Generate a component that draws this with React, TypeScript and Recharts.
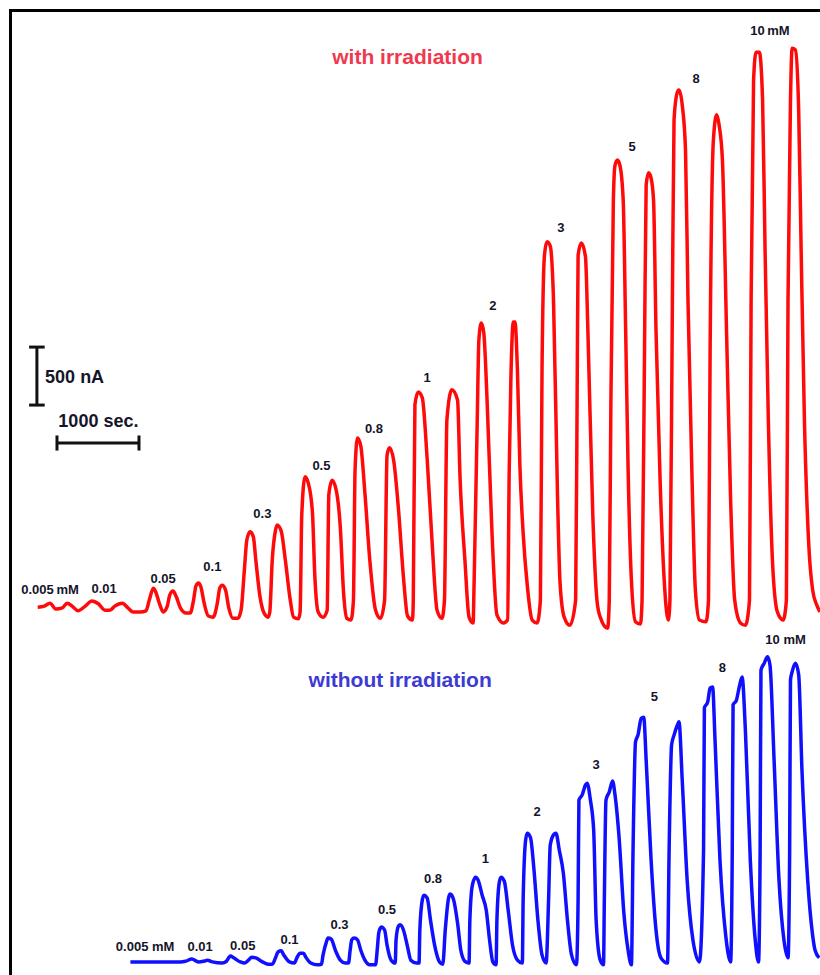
import React from 'react';
import { ComposedChart, Line, Scatter, XAxis, YAxis, ReferenceLine } from 'recharts';

// Time in seconds, current in nA (relative to each trace's baseline)
const redTime = [
  460, 540, 610, 680, 760, 820, 880, 950, 1040, 1120, 1200, 1280, 1340, 1400, 1490, 1560, 1620, 1710, 1780,
  1820, 1870, 1900, 1950, 1990,
  2040, 2070, 2110, 2150, 2200, 2270, 2320,
  2360, 2390, 2420, 2450, 2490, 2540, 2600,
  2650, 2680, 2710, 2750, 2790, 2840, 2900,
  2940, 2980, 3010, 3050, 3090, 3120, 3170, 3220, 3270,
  3290, 3320, 3360, 3380, 3430, 3480, 3540, 3580, 3640,
  3660, 3680, 3720, 3760, 3810, 3840, 3880, 3940,
  3990, 4010, 4050, 4100, 4150, 4190, 4230, 4280,
  4310, 4330, 4360, 4400, 4450, 4510, 4580, 4640,
  4690, 4720, 4750, 4800, 4860, 4920, 4970, 5030,
  5040, 5060, 5100, 5150, 5210, 5270, 5330, 5390,
  5420, 5450, 5510, 5580, 5610, 5670, 5720, 5770,
  5780, 5820, 5840, 5870, 5900, 5940, 6000, 6060, 6140,
  6190, 6210, 6230, 6260, 6280, 6310, 6340, 6380, 6430, 6490, 6550,
  6590, 6610, 6640, 6670, 6710, 6750, 6800, 6830, 6880, 6950,
  7020, 7040, 7050, 7090, 7140, 7170, 7230, 7280, 7320, 7410,
  7430, 7450, 7480, 7500, 7530, 7560, 7600, 7630, 7660, 7700, 7750, 7810,
  7830, 7860, 7880, 7910, 7940, 7970, 8000, 8050, 8100, 8150,
  8170, 8200, 8220, 8260, 8280, 8320, 8360, 8390, 8440, 8480, 8530, 8610,
  8640, 8660, 8700, 8740, 8770, 8810, 8860, 8910, 8960, 9030, 9090,
  9140, 9160, 9190, 9220, 9260, 9300, 9330, 9370, 9420, 9480, 9550,
  9590, 9610, 9640, 9660, 9700, 9740, 9770, 9810, 9860, 9910, 9960, 10000,
];
const redCurrent = [
  110, 120, 145, 95, 105, 145, 120, 80, 120, 165, 140, 85, 85, 120, 145, 105, 70, 70, 80,
  170, 275, 240, 130, 70,
  120, 215, 250, 200, 105, 60, 60,
  170, 295, 320, 285, 145, 35, 25,
  145, 275, 300, 260, 105, 15, 15,
  85, 430, 690, 760, 715, 515, 205, 60, 25,
  70, 515, 775, 820, 765, 515, 170, 25, 10,
  70, 905, 1235, 1180, 930, 370, 70, 25,
  85, 1080, 1205, 1120, 800, 235, 15, 0,
  170, 1295, 1570, 1500, 1095, 515, 85, 15,
  170, 1420, 1485, 1380, 950, 370, 35, 0,
  170, 1855, 1965, 1915, 1380, 665, 85, 15,
  170, 1725, 1985, 1895, 1235, 515, 25, -25,
  260, 1725, 2415, 2560, 2475, 1895, 750, 45, -25,
  0, 1295, 2070, 2570, 2570, 2155, 1335, 750, 300, 0, -25,
  170, 2155, 3145, 3260, 3225, 2760, 1035, 320, 25, -45,
  170, 2155, 3145, 3250, 3130, 2475, 890, 170, 25, -70,
  170, 1895, 3620, 3920, 3965, 3920, 3620, 2500, 1295, 345, -15, -35,
  170, 2325, 3750, 3855, 3810, 3620, 2500, 1205, 345, 0,
  170, 2760, 4310, 4550, 4570, 4440, 4050, 2760, 1205, 260, 0, -15,
  170, 2325, 4140, 4355, 4265, 3965, 2500, 1035, 170, -25, -45,
  170, 2760, 4655, 4895, 4895, 4480, 3190, 1725, 515, 70, 0,
  170, 2760, 4480, 4930, 4915, 4395, 3190, 1725, 690, 260, 130, 70,
];

const blueTime = [
  1590, 2200, 2260, 2340, 2420, 2480, 2530, 2590, 2710,
  2760, 2810, 2850, 2930, 2980,
  3030, 3070, 3120, 3200, 3270, 3320,
  3360, 3390, 3430, 3460, 3530, 3590,
  3620, 3660, 3700, 3730, 3790, 3870, 3920,
  3940, 3980, 4000, 4040, 4090, 4150, 4210, 4250,
  4270, 4290, 4320, 4360, 4400, 4450, 4510, 4580,
  4600, 4620, 4650, 4690, 4720, 4770, 4820,
  4830, 4860, 4880, 4920, 4970, 5010, 5080, 5110,
  5120, 5150, 5170, 5210, 5250, 5300, 5360, 5400,
  5430, 5470, 5490, 5530, 5580, 5620, 5670, 5720,
  5730, 5760, 5800, 5830, 5880, 5930, 5970, 6010, 6050,
  6060, 6090, 6110, 6150, 6200, 6250, 6310, 6370,
  6380, 6410, 6430, 6470, 6510, 6560, 6610, 6660,
  6690, 6710, 6750, 6780, 6820, 6870, 6920, 6970, 7030,
  7050, 7060, 7100, 7140, 7160, 7200, 7240, 7270, 7320, 7360,
  7370, 7390, 7430, 7470, 7500, 7550, 7610, 7660, 7700,
  7720, 7750, 7780, 7820, 7850, 7880, 7940, 8000, 8060, 8140,
  8160, 8190, 8220, 8260, 8280, 8320, 8380, 8450, 8530,
  8580, 8590, 8630, 8660, 8690, 8720, 8780, 8850, 8910,
  8930, 8940, 8980, 9020, 9050, 9090, 9150, 9210, 9250,
  9270, 9280, 9320, 9360, 9390, 9440, 9500, 9560, 9610,
  9630, 9640, 9660, 9700, 9740, 9780, 9850, 9910, 9940, 9990,
];
const blueCurrent = [
  10, 10, 15, 35, 10, 15, 25, 10, 0,
  15, 60, 45, 10, 0,
  25, 50, 45, 10, -10, -10,
  45, 95, 105, 70, 10, 0,
  45, 85, 85, 50, 0, -15, -10,
  70, 180, 215, 205, 110, 25, 0, 0,
  110, 200, 215, 200, 110, 25, -15, -15,
  110, 265, 310, 285, 155, 25, 0,
  200, 320, 330, 285, 140, 25, 0, 0,
  285, 545, 585, 560, 370, 155, 10, -10,
  285, 560, 595, 550, 345, 110, 15, 0,
  370, 670, 740, 715, 585, 455, 200, 10, -15,
  370, 700, 740, 705, 440, 155, 25, 0,
  545, 1060, 1120, 1080, 820, 370, 70, 0,
  545, 1015, 1105, 1120, 975, 775, 370, 70, -15,
  545, 1405, 1450, 1535, 1550, 1405, 1145, 370, 25, -15,
  545, 1405, 1475, 1570, 1450, 1080, 415, 110, -15,
  975, 1905, 1965, 2110, 2120, 1750, 890, 285, 45, 0,
  975, 1880, 1965, 2050, 2080, 1575, 715, 200, 10,
  975, 2200, 2250, 2370, 2380, 1920, 890, 240, 10,
  975, 2225, 2265, 2395, 2465, 2010, 890, 200, 10,
  975, 2525, 2585, 2640, 2570, 1750, 715, 200, 45,
  975, 2440, 2510, 2585, 2485, 1665, 715, 240, 110, 45,
];

const redConcLabels = ['0.005\u2009mM', '0.01', '0.05', '0.1', '0.3', '0.5', '0.8', '1', '2', '3', '5', '8', '10\u2009mM'];
const blueConcLabels = ['0.005 mM', '0.01', '0.05', '0.1', '0.3', '0.5', '0.8', '1', '2', '3', '5', '8', '10 mM'];
const redLabelTime = [610, 1270, 1990, 2590, 3200, 3920, 4560, 5210, 6010, 6840, 7710, 8490, 9390];
const redLabelCurrent = [260, 275, 360, 465, 915, 1335, 1655, 2095, 2715, 3380, 4085, 4670, 5085];
const blueLabelTime = [1770, 2440, 2960, 3530, 4140, 4720, 5280, 5920, 6550, 7270, 7980, 8810, 9580];
const blueLabelCurrent = [145, 145, 155, 200, 330, 465, 725, 905, 1310, 1715, 2295, 2550, 2785];

const titleTexts = ['with irradiation', 'without irradiation'];
const titleTime = [4970, 4880];
const titleLevel = [7920, 2550];

// offsets of each trace's baseline on the common current axis (nA)
const RED_OFFSET = 3060;
const BLUE_OFFSET = 103;
const TIME_DOMAIN: [number, number] = [0, 10000];
const CURRENT_DOMAIN: [number, number] = [0, 8405];

// scale bars: 500 nA and 1000 s
const BAR_I_T = 450;
const BAR_I_FROM = 4913;
const BAR_I_SIZE = 500;
const BAR_T_FROM = 695;
const BAR_T_SIZE = 1000;
const BAR_T_LEVEL = 4586;
const scaleTexts = ['500 nA', '1000 sec.'];
const scaleTextTime = [550, 1200];
const scaleTextLevel = [5155, 4775];

const RED = '#ff0a0a';
const BLUE = '#1010ff';
const TEXT = '#15152a';
const FONT = '"Liberation Sans", Arial, Helvetica, sans-serif';

const redData = redTime.map((t, k) => ({ t, v: RED_OFFSET + redCurrent[k] }));
const blueData = blueTime.map((t, k) => ({ t, v: BLUE_OFFSET + blueCurrent[k] }));
const redLabels = redLabelTime.map((t, k) => ({ t, v: RED_OFFSET + redLabelCurrent[k], text: redConcLabels[k] }));
const blueLabels = blueLabelTime.map((t, k) => ({ t, v: BLUE_OFFSET + blueLabelCurrent[k], text: blueConcLabels[k] }));
const titles = titleTexts.map((text, k) => ({ t: titleTime[k], v: titleLevel[k], text, color: k === 0 ? '#f0384e' : '#3b3bd4' }));
const scaleLabels = scaleTexts.map((text, k) => ({ t: scaleTextTime[k], v: scaleTextLevel[k], text, anchor: k === 0 ? 'start' : 'middle' }));

const ConcLabel = (props: any) => {
  const { cx, cy, payload } = props;
  return (
    <text x={cx} y={cy} textAnchor="middle" dominantBaseline="central" fontFamily={FONT} fontWeight="bold" fontSize={13} fill={TEXT}>
      {payload.text}
    </text>
  );
};

const TitleLabel = (props: any) => {
  const { cx, cy, payload } = props;
  return (
    <text x={cx} y={cy} textAnchor="middle" dominantBaseline="central" fontFamily={FONT} fontWeight="bold" fontSize={21} fill={payload.color}>
      {payload.text}
    </text>
  );
};

const ScaleLabel = (props: any) => {
  const { cx, cy, payload } = props;
  return (
    <text x={cx} y={cy} textAnchor={payload.anchor} dominantBaseline="central" fontFamily={FONT} fontWeight="bold" fontSize={18} fill={TEXT}>
      {payload.text}
    </text>
  );
};

const capHalfT = 95;
const capHalfI = 65;

export default function App() {
  return (
    <div style={{ position: 'absolute', left: 0, top: 0, width: 820, height: 975, background: '#fff', overflow: 'hidden' }}>
      <div
        style={{
          position: 'absolute',
          left: 9,
          top: 9,
          width: 830,
          height: 990,
          borderLeft: '3px solid #000',
          borderTop: '3px solid #000',
          boxSizing: 'border-box',
        }}
      />
      <div style={{ position: 'absolute', left: 0, top: 0 }}>
        <ComposedChart width={820} height={975} margin={{ top: 0, right: 0, bottom: 0, left: 0 }}>
          <XAxis dataKey="t" type="number" domain={TIME_DOMAIN} allowDataOverflow hide />
          <YAxis dataKey="v" type="number" domain={CURRENT_DOMAIN} allowDataOverflow hide />
          <ReferenceLine segment={[{ x: BAR_I_T, y: BAR_I_FROM }, { x: BAR_I_T, y: BAR_I_FROM + BAR_I_SIZE }]} stroke="#111" strokeWidth={3} />
          <ReferenceLine segment={[{ x: BAR_I_T - capHalfT, y: BAR_I_FROM }, { x: BAR_I_T + capHalfT, y: BAR_I_FROM }]} stroke="#111" strokeWidth={3} />
          <ReferenceLine segment={[{ x: BAR_I_T - capHalfT, y: BAR_I_FROM + BAR_I_SIZE }, { x: BAR_I_T + capHalfT, y: BAR_I_FROM + BAR_I_SIZE }]} stroke="#111" strokeWidth={3} />
          <ReferenceLine segment={[{ x: BAR_T_FROM, y: BAR_T_LEVEL }, { x: BAR_T_FROM + BAR_T_SIZE, y: BAR_T_LEVEL }]} stroke="#111" strokeWidth={3} />
          <ReferenceLine segment={[{ x: BAR_T_FROM, y: BAR_T_LEVEL - capHalfI }, { x: BAR_T_FROM, y: BAR_T_LEVEL + capHalfI }]} stroke="#111" strokeWidth={3} />
          <ReferenceLine segment={[{ x: BAR_T_FROM + BAR_T_SIZE, y: BAR_T_LEVEL - capHalfI }, { x: BAR_T_FROM + BAR_T_SIZE, y: BAR_T_LEVEL + capHalfI }]} stroke="#111" strokeWidth={3} />
          <Line data={redData} dataKey="v" type="monotone" stroke={RED} strokeWidth={3.5} dot={false} activeDot={false} isAnimationActive={false} strokeLinejoin="round" />
          <Line data={blueData} dataKey="v" type="monotone" stroke={BLUE} strokeWidth={3.5} dot={false} activeDot={false} isAnimationActive={false} strokeLinejoin="round" />
          <Scatter data={redLabels} dataKey="v" shape={ConcLabel} isAnimationActive={false} />
          <Scatter data={blueLabels} dataKey="v" shape={ConcLabel} isAnimationActive={false} />
          <Scatter data={titles} dataKey="v" shape={TitleLabel} isAnimationActive={false} />
          <Scatter data={scaleLabels} dataKey="v" shape={ScaleLabel} isAnimationActive={false} />
        </ComposedChart>
      </div>
    </div>
  );
}
